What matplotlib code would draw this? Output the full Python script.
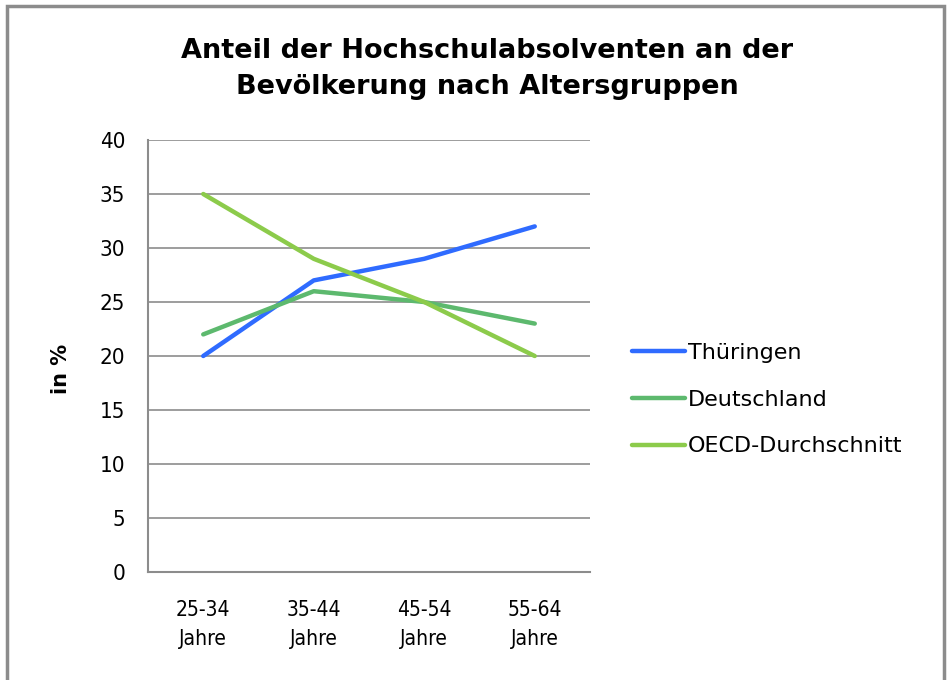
import matplotlib
matplotlib.use("Agg")
import matplotlib.pyplot as plt
from matplotlib.patches import Rectangle

categories = ["25-34\nJahre", "35-44\nJahre", "45-54\nJahre", "55-64\nJahre"]
series_names = ["Thüringen", "Deutschland", "OECD-Durchschnitt"]
thueringen = [20, 27, 29, 32]
deutschland = [22, 26, 25, 23]
oecd = [35, 29, 25, 20]
yticks = [0, 5, 10, 15, 20, 25, 30, 35, 40]
colors = ["#2F6BFF", "#5DB96E", "#8CCB4B"]

plt.rcParams['font.family'] = ['DejaVu Sans']

fig = plt.figure(figsize=(9.47, 6.8), dpi=100)
fig.patches.append(Rectangle((7/947, -0.01), 937/947, 1 - 6/680 + 0.01, transform=fig.transFigure,
                             fill=False, edgecolor="#8c8c8c", linewidth=2.5))

ax = fig.add_axes([148/947, 108/680, 442/947, 432/680])
x = list(range(len(categories)))
for vals, name, c in zip([thueringen, deutschland, oecd], series_names, colors):
    ax.plot(x, vals, color=c, linewidth=3.2, label=name, solid_capstyle='round')

ax.set_xlim(-0.5, 3.5)
ax.set_ylim(0, 40)
ax.set_yticks(yticks)
ax.set_yticklabels([str(v) for v in yticks], fontsize=16, fontstretch='condensed')
ax.set_xticks(x)
ax.set_xticklabels(categories, fontsize=15, linespacing=1.6, fontstretch='condensed')
ax.tick_params(axis='y', length=0, pad=16.5)
ax.tick_params(axis='x', length=0, pad=20)
ax.grid(axis='y', color="#8c8c8c", linewidth=1.2)
ax.set_axisbelow(True)
for s in ["top", "right"]:
    ax.spines[s].set_visible(False)
for s in ["left", "bottom"]:
    ax.spines[s].set_color("#8c8c8c")
    ax.spines[s].set_linewidth(1.5)

ax.set_ylabel("in %", fontsize=15, fontweight='bold')
ax.yaxis.set_label_coords(-0.175, 0.47)

fig.text(487/947, 1 - 69/680, "Anteil der Hochschulabsolventen an der\nBevölkerung nach Altersgruppen",
         ha='center', va='center', fontsize=19.5, fontweight='bold', linespacing=1.5)

leg = fig.legend(loc='upper left', bbox_to_anchor=(612/947, 1 - 323/680), frameon=False,
                 fontsize=16, handlelength=2.4, handletextpad=0.1, labelspacing=1.2)

fig.savefig("out.png", dpi=100)
